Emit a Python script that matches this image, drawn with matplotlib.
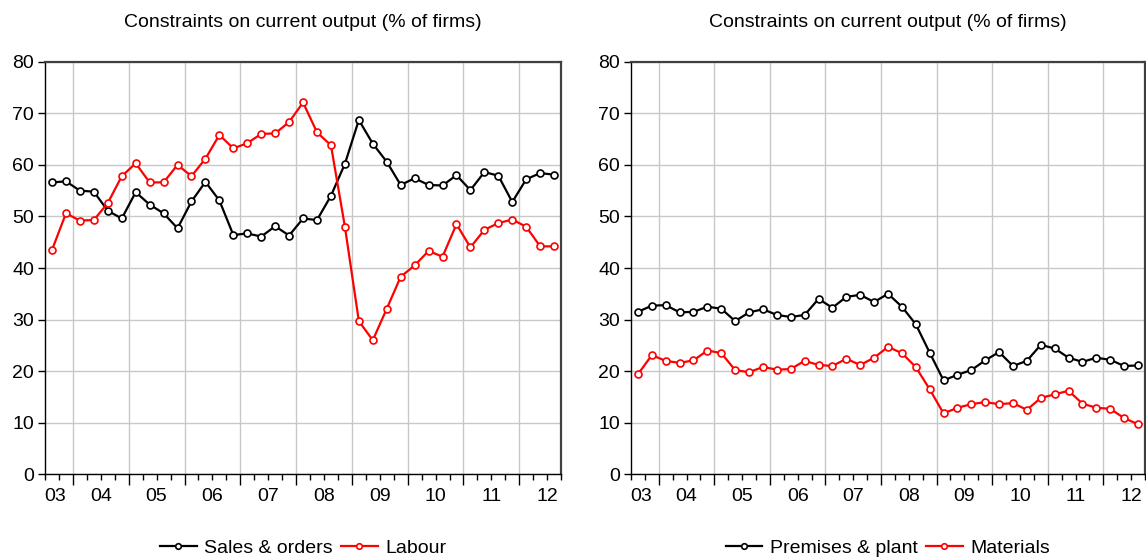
import matplotlib.pyplot as plt
from matplotlib.ticker import FixedLocator, NullFormatter

plt.rcParams['font.family'] = ['Liberation Sans', 'DejaVu Sans']

# quarterly survey, 2003Q3 .. 2012Q3
start_year, start_q, n_obs = 2003, 3, 37
dates = [start_year + (start_q - 1 + i) / 4.0 + 0.125 for i in range(n_obs)]

sales_orders = [56.6, 56.8, 55.0, 54.8, 51.1, 49.6, 54.7, 52.3, 50.6, 47.7,
                52.9, 56.7, 53.1, 46.4, 46.7, 46.1, 48.1, 46.3, 49.6, 49.3,
                54.0, 60.2, 68.7, 64.1, 60.6, 56.1, 57.4, 56.1, 56.0, 58.0,
                55.1, 58.6, 57.9, 52.8, 57.2, 58.4, 58.1]
labour = [43.5, 50.6, 49.2, 49.3, 52.6, 57.8, 60.3, 56.6, 56.6, 60.0,
          57.8, 61.2, 65.8, 63.2, 64.2, 66.0, 66.1, 68.3, 72.1, 66.3,
          63.8, 48.0, 29.7, 26.0, 32.1, 38.3, 40.5, 43.3, 42.2, 48.5,
          44.0, 47.4, 48.7, 49.4, 48.0, 44.2, 44.2]
premises = [31.5, 32.7, 32.8, 31.4, 31.5, 32.5, 32.1, 29.7, 31.4, 32.0,
            30.9, 30.5, 30.9, 34.0, 32.3, 34.4, 34.8, 33.4, 35.0, 32.5,
            29.1, 23.6, 18.2, 19.3, 20.2, 22.1, 23.7, 21.0, 22.0, 25.1,
            24.4, 22.6, 21.8, 22.6, 22.2, 21.0, 21.1]
materials = [19.4, 23.1, 22.0, 21.6, 22.1, 24.0, 23.5, 20.2, 19.8, 20.8,
             20.3, 20.4, 22.0, 21.2, 21.0, 22.4, 21.2, 22.6, 24.7, 23.5,
             20.8, 16.5, 11.8, 12.9, 13.6, 14.0, 13.6, 13.8, 12.5, 14.8,
             15.5, 16.2, 13.7, 12.9, 12.7, 10.9, 9.7]

year_labels = ['03', '04', '05', '06', '07', '08', '09', '10', '11', '12']
label_pos = [2003.68] + [2004.5 + k for k in range(9)]
title = 'Constraints on current output (% of firms)'

fig = plt.figure(figsize=(11.46, 5.58), dpi=100)
ax1 = fig.add_axes([0.0393, 0.150, 0.4503, 0.7394])
ax2 = fig.add_axes([0.5506, 0.150, 0.4485, 0.7394])


def draw(ax, s1, s2, n1, n2):
    ax.plot(dates, s1, color='black', lw=1.6, marker='o', ms=5,
            mfc='white', mec='black', mew=1.2, label=n1)
    ax.plot(dates, s2, color='#ff0000', lw=1.6, marker='o', ms=5,
            mfc='white', mec='#ff0000', mew=1.2, label=n2)
    ax.set_xlim(2003.5, 2012.75)
    ax.set_ylim(0, 80)
    ax.set_yticks(range(0, 81, 10))
    ax.xaxis.set_major_locator(FixedLocator(range(2004, 2013)))
    ax.xaxis.set_minor_locator(FixedLocator([2003.5 + q / 4.0 for q in range(38)]))
    ax.xaxis.set_major_formatter(NullFormatter())
    ax.grid(True, which='major', color='#c8c8c8', lw=1.0)
    ax.set_axisbelow(True)
    ax.tick_params(axis='x', which='major', direction='out', length=8, width=1)
    ax.tick_params(axis='x', which='minor', direction='out', length=4, width=1)
    ax.tick_params(axis='y', direction='out', length=5, width=1, labelsize=14, pad=3)
    for sp in ['top', 'right']:
        ax.spines[sp].set_color('#404040')
        ax.spines[sp].set_linewidth(1.6)
    for sp in ['left', 'bottom']:
        ax.spines[sp].set_color('black')
        ax.spines[sp].set_linewidth(1.0)
    for p, lab in zip(label_pos, year_labels):
        ax.text(p, -0.054, lab, transform=ax.get_xaxis_transform(),
                ha='center', va='center', fontsize=14)
    ax.set_title(title, fontsize=14, pad=25)
    ax.legend(loc='center', bbox_to_anchor=(0.5, -0.179), ncol=2, frameon=False,
              fontsize=14, handlelength=1.9, handletextpad=0.4, columnspacing=0.4,
              markerscale=0.8)


draw(ax1, sales_orders, labour, 'Sales & orders', 'Labour')
draw(ax2, premises, materials, 'Premises & plant', 'Materials')

fig.savefig('out.png', dpi=100)
